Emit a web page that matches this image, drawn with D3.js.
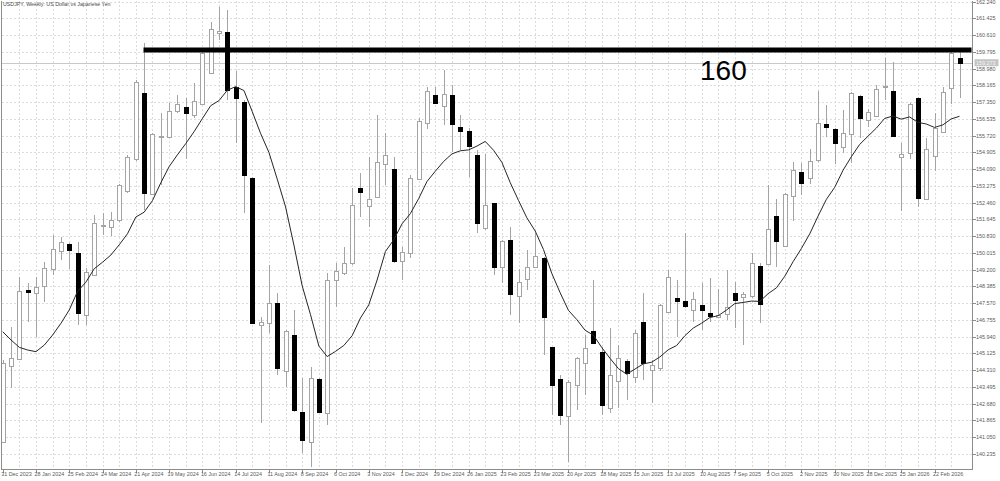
<!DOCTYPE html>
<html>
<head>
<meta charset="utf-8">
<script src="https://cdn.jsdelivr.net/npm/d3@7"></script>
<style>
  body { margin: 0; background: #fff; }
  svg { display: block; }
  text { font-family: "Liberation Sans", Arial, sans-serif; }
</style>
</head>
<body>
<svg id="chart" width="1000" height="481"></svg>
<script>
// USDJPY weekly candles (31 Dec 2023 .. 15 Mar 2026)
const opens = [
  140.83, 144.51, 144.84, 148.21, 148.08, 148.41, 149.22, 150.11, 150.43, 149.99,
  146.99, 148.94, 151.33, 151.29, 151.62, 153.04, 154.57, 157.81, 152.88, 155.70,
  155.64, 156.92, 157.13, 156.73, 157.26, 158.79, 160.70, 160.75, 158.07, 157.37,
  153.64, 146.51, 146.62, 147.59, 144.27, 146.02, 142.26, 140.80, 143.88, 142.21,
  148.70, 149.02, 149.51, 153.16, 152.30, 152.72, 154.33, 154.08, 149.62, 149.99,
  153.61, 156.32, 157.70, 157.16, 157.70, 156.16, 155.95, 154.78, 151.24, 152.46,
  149.35, 150.64, 147.92, 148.73, 149.35, 149.75, 145.45, 143.88, 142.08, 143.59,
  144.67, 146.22, 145.21, 142.45, 143.78, 144.77, 143.99, 146.67, 144.32, 144.40,
  147.16, 147.84, 147.69, 147.24, 147.48, 147.11, 146.91, 147.04, 148.05, 147.89,
  147.92, 149.39, 149.48, 151.81, 150.37, 152.79, 153.97, 153.68, 154.54, 156.27,
  156.05, 155.15, 155.79, 157.67, 156.48, 156.69, 158.07, 157.91, 154.67, 154.89,
  157.54, 152.62, 154.73, 155.88, 158.02, 159.48
];
const highs = [
  144.80, 146.43, 148.86, 148.57, 148.86, 149.59, 150.89, 150.77, 150.51, 150.53,
  149.27, 151.86, 151.94, 152.02, 153.35, 154.78, 158.43, 160.21, 155.87, 156.81,
  157.29, 157.70, 157.54, 158.27, 159.81, 161.27, 162.00, 161.84, 158.88, 157.46,
  153.72, 146.91, 149.43, 148.05, 146.26, 147.24, 143.91, 144.48, 143.91, 149.02,
  149.51, 150.32, 153.16, 153.89, 154.70, 156.73, 155.87, 154.70, 150.32, 153.81,
  156.56, 158.07, 158.07, 158.92, 158.19, 156.73, 156.08, 155.02, 154.83, 152.46,
  150.64, 151.29, 149.22, 150.16, 150.97, 149.83, 145.45, 144.07, 143.83, 144.93,
  146.02, 148.70, 145.45, 146.35, 145.53, 144.84, 146.26, 148.05, 144.80, 147.51,
  149.18, 148.70, 150.97, 148.13, 148.54, 148.78, 148.24, 149.18, 148.62, 148.13,
  149.99, 149.51, 153.32, 152.62, 152.91, 154.46, 154.37, 155.06, 157.91, 157.21,
  156.08, 156.97, 157.86, 157.70, 157.02, 158.19, 159.48, 159.32, 155.38, 157.33,
  157.62, 155.59, 156.84, 158.11, 159.81, 159.81
];
const lows = [
  140.75, 143.46, 144.80, 146.67, 145.94, 147.64, 148.94, 149.67, 149.22, 146.51,
  146.51, 148.89, 150.89, 150.84, 151.54, 152.95, 154.50, 152.10, 152.83, 153.32,
  155.59, 156.81, 154.57, 156.56, 157.21, 158.75, 160.38, 157.46, 155.35, 151.94,
  146.59, 141.72, 146.10, 144.07, 143.51, 142.29, 140.26, 139.61, 142.21, 141.64,
  147.40, 148.94, 149.43, 151.78, 151.29, 152.67, 153.32, 149.51, 148.70, 149.75,
  153.56, 156.03, 157.29, 156.24, 154.94, 155.02, 153.72, 150.97, 151.13, 148.94,
  148.54, 146.99, 146.59, 148.21, 149.27, 145.05, 142.13, 141.64, 139.86, 142.37,
  143.10, 145.62, 142.13, 142.21, 142.45, 142.86, 143.70, 143.83, 142.70, 144.29,
  147.08, 145.91, 147.32, 146.67, 146.26, 146.67, 146.83, 146.75, 146.35, 145.53,
  147.84, 146.59, 149.43, 149.35, 150.32, 151.57, 152.83, 153.37, 154.46, 155.67,
  154.34, 154.86, 154.41, 155.59, 156.16, 156.65, 157.46, 155.67, 152.07, 154.57,
  152.27, 152.59, 154.02, 155.87, 157.26, 157.54
];
const closes = [
  144.64, 144.92, 148.16, 148.13, 148.37, 149.27, 150.19, 150.53, 150.16, 147.11,
  149.07, 151.46, 151.35, 151.62, 153.32, 154.67, 158.32, 152.91, 155.79, 155.72,
  156.94, 157.25, 156.81, 157.41, 159.73, 160.90, 160.83, 157.94, 157.54, 153.81,
  146.62, 146.67, 147.59, 144.40, 146.22, 142.37, 140.91, 143.94, 142.29, 148.70,
  149.15, 149.54, 152.35, 153.00, 152.62, 154.46, 154.78, 149.64, 150.08, 153.68,
  156.45, 157.89, 157.33, 157.75, 156.29, 155.96, 155.22, 151.49, 152.35, 149.35,
  150.60, 148.02, 148.62, 149.35, 149.87, 146.91, 143.59, 142.13, 143.75, 144.89,
  145.37, 145.65, 142.61, 144.07, 144.89, 144.16, 146.13, 144.64, 144.56, 147.48,
  148.86, 147.68, 147.43, 147.76, 147.24, 146.96, 146.99, 147.40, 147.72, 148.00,
  149.54, 147.53, 151.18, 150.61, 152.87, 154.05, 153.43, 154.50, 156.35, 156.16,
  155.38, 155.83, 157.78, 156.60, 156.86, 157.98, 158.14, 155.70, 154.81, 157.26,
  152.70, 155.06, 156.11, 157.83, 159.76, 159.27
];
// moving average values for the first bars (earlier history is off-screen)
const maHead = [146.18, 145.78, 145.42, 145.29, 145.21, 145.53, 146.02, 146.59, 147.24];
const maPeriod = 10;

const priceTicks = [
  '162.240', '161.425', '160.610', '159.795', '158.980', '158.165', '157.350',
  '156.535', '155.720', '154.905', '154.090', '153.275', '152.460', '151.645',
  '150.830', '150.015', '149.200', '148.385', '147.570', '146.755', '145.940',
  '145.125', '144.310', '143.495', '142.680', '141.865', '141.050', '140.235'
];
const dateTicks = [
  '31 Dec 2023', '28 Jan 2024', '25 Feb 2024', '24 Mar 2024', '21 Apr 2024',
  '19 May 2024', '16 Jun 2024', '14 Jul 2024', '11 Aug 2024', '8 Sep 2024',
  '6 Oct 2024', '3 Nov 2024', '1 Dec 2024', '29 Dec 2024', '26 Jan 2025',
  '23 Feb 2025', '23 Mar 2025', '20 Apr 2025', '18 May 2025', '15 Jun 2025',
  '13 Jul 2025', '10 Aug 2025', '7 Sep 2025', '5 Oct 2025', '2 Nov 2025',
  '30 Nov 2025', '28 Dec 2025', '25 Jan 2026', '22 Feb 2026'
];
const levelPrice = 159.89;
const levelLabel = '160';
const bidLabel = '159.273';

const svg = d3.select('#chart');
const plot = { left: 1.5, right: 972.5, top: 0.5, bottom: 469.5 };

const n = closes.length;
const x = d3.scaleLinear().domain([0, n - 1]).range([2.7, 959.5]);
const y = d3.scaleLinear().domain([140.235, 162.240]).range([453.9, 1.7]);
const px = v => Math.round(x(v)) + 0.5;
const py = v => Math.round(y(v)) + 0.5;

// grid
const grid = svg.append('g')
  .attr('stroke', '#dcdcdc')
  .attr('stroke-dasharray', '2,2')
  .attr('shape-rendering', 'crispEdges');

grid.selectAll('.hg')
  .data(priceTicks)
  .enter().append('line')
  .attr('x1', plot.left).attr('x2', plot.right)
  .attr('y1', d => py(+d)).attr('y2', d => py(+d));

grid.selectAll('.vg')
  .data(d3.range(2, n, 2))
  .enter().append('line')
  .attr('x1', d => px(d)).attr('x2', d => px(d))
  .attr('y1', plot.top).attr('y2', plot.bottom);

// bid line
svg.append('line')
  .attr('x1', plot.left).attr('x2', plot.right)
  .attr('y1', py(closes[n - 1])).attr('y2', py(closes[n - 1]))
  .attr('stroke', '#c8c8c8')
  .attr('shape-rendering', 'crispEdges');

// candles
const candles = svg.append('g').attr('shape-rendering', 'crispEdges');

candles.selectAll('.wick')
  .data(d3.range(n))
  .enter().append('line')
  .attr('x1', d => px(d)).attr('x2', d => px(d))
  .attr('y1', d => y(highs[d])).attr('y2', d => y(lows[d]))
  .attr('stroke', '#a4a4a4');

candles.selectAll('.body')
  .data(d3.range(n))
  .enter().append('rect')
  .attr('x', d => Math.round(x(d)) - 2 + (closes[d] >= opens[d] ? 0.5 : 0))
  .attr('y', d => {
    const top = Math.round(y(Math.max(opens[d], closes[d])));
    return closes[d] >= opens[d] ? top + 0.5 : top;
  })
  .attr('width', d => closes[d] >= opens[d] ? 4 : 5)
  .attr('height', d => {
    const h = Math.round(y(Math.min(opens[d], closes[d]))) - Math.round(y(Math.max(opens[d], closes[d])));
    return Math.max(closes[d] >= opens[d] ? h : h + 1, 1);
  })
  .attr('fill', d => closes[d] >= opens[d] ? '#fff' : '#000')
  .attr('stroke', d => closes[d] >= opens[d] ? '#a4a4a4' : 'none');

// moving average
const ma = closes.map((c, i) => i < maPeriod - 1
  ? maHead[i]
  : d3.mean(closes.slice(i - maPeriod + 1, i + 1)));

svg.append('path')
  .datum(ma)
  .attr('fill', 'none')
  .attr('stroke', '#262626')
  .attr('stroke-width', 1)
  .attr('d', d3.line().x((d, i) => x(i)).y(d => y(d)));

// drawn level
svg.append('line')
  .attr('x1', 143.5).attr('x2', plot.right - 1)
  .attr('y1', y(levelPrice)).attr('y2', y(levelPrice))
  .attr('stroke', '#000')
  .attr('stroke-width', 5);

svg.append('text')
  .attr('x', 700)
  .attr('y', 80)
  .attr('font-family', '"Open Sans", sans-serif')
  .attr('font-size', 28)
  .attr('fill', '#000')
  .text(levelLabel);

// frame
svg.append('path')
  .attr('d', `M${plot.left},${plot.top}V${plot.bottom}H${plot.right}V${plot.top}`)
  .attr('fill', 'none')
  .attr('stroke', '#8c8c8c')
  .attr('shape-rendering', 'crispEdges');

// price axis
const yAxis = svg.append('g').attr('font-size', 5.4).attr('fill', '#5a5a5a');
yAxis.selectAll('line')
  .data(priceTicks)
  .enter().append('line')
  .attr('x1', plot.right).attr('x2', plot.right + 3)
  .attr('y1', d => py(+d)).attr('y2', d => py(+d))
  .attr('stroke', '#8c8c8c')
  .attr('shape-rendering', 'crispEdges');
yAxis.selectAll('text')
  .data(priceTicks)
  .enter().append('text')
  .attr('x', plot.right + 3.5)
  .attr('y', d => y(+d) + 2)
  .text(d => d);

// bid price box
svg.append('rect')
  .attr('x', plot.right + 2).attr('y', y(closes[n - 1]) - 3.5)
  .attr('width', 24).attr('height', 7)
  .attr('fill', '#c4c4c4');
svg.append('text')
  .attr('x', plot.right + 3.5).attr('y', y(closes[n - 1]) + 2)
  .attr('font-size', 5.4).attr('fill', '#f4f4f4')
  .text(bidLabel);

// time axis
const xAxis = svg.append('g').attr('font-size', 5.4).attr('fill', '#5a5a5a');
xAxis.selectAll('line')
  .data(dateTicks)
  .enter().append('line')
  .attr('x1', (d, i) => px(i * 4)).attr('x2', (d, i) => px(i * 4))
  .attr('y1', plot.bottom).attr('y2', plot.bottom + 3)
  .attr('stroke', '#8c8c8c')
  .attr('shape-rendering', 'crispEdges');
xAxis.selectAll('text')
  .data(dateTicks)
  .enter().append('text')
  .attr('x', (d, i) => x(i * 4) - 1.5)
  .attr('y', plot.bottom + 6.5)
  .text(d => d);

// title
svg.append('text')
  .attr('x', 3).attr('y', 6)
  .attr('font-size', 5.3)
  .attr('fill', '#4a4a4a')
  .text('USDJPY, Weekly:  US Dollar vs Japanese Yen');
</script>
</body>
</html>
